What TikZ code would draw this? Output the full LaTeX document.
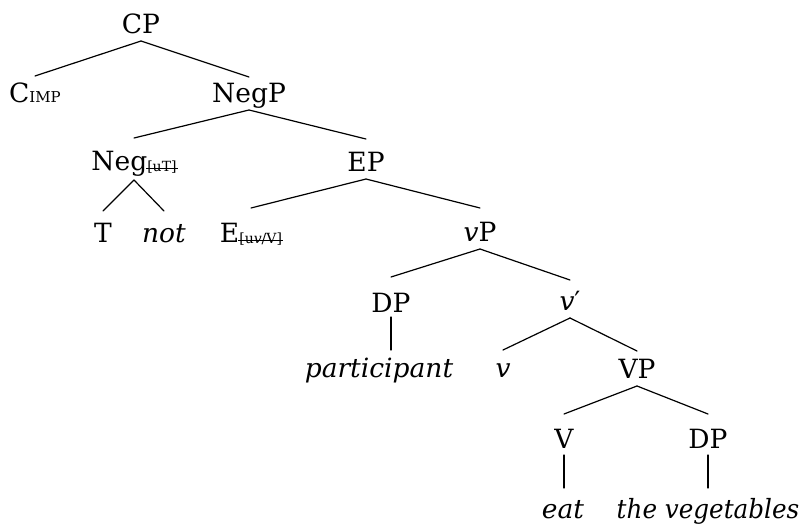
\documentclass[tikz,border=0pt]{standalone}
\usepackage{fontspec}
\setmainfont{DejaVu Serif}
\usetikzlibrary{calc}
\newcommand\strikeout[1]{\setbox0\hbox{#1}\rlap{\hspace{-1pt}\rule[2.8pt]{\dimexpr\wd0+2pt\relax}{1.2pt}}\box0}
\newcommand\subx[1]{{\fontsize{14}{16}\selectfont\raisebox{-1.5pt}{#1}}}
\newcommand\tedge[4]{\draw[br] ($(#1.base)+(0,#3)$) -- ($(#2.base)+(0,-#4)$);}
\begin{document}
\begin{tikzpicture}[x=1pt,y=-1pt,
  lbl/.style={anchor=base, inner sep=0pt, font=\fontsize{26.5}{30}\selectfont},
  br/.style={line width=1.2pt, line cap=round}]
\useasboundingbox (0,0) rectangle (801,525);
\node[lbl] (CP) at (141,33) {CP};
\node[lbl] (CIMP) at (35,102) {C{\fontsize{15}{17}\selectfont IMP}};
\node[lbl] (NegP) at (249,102) {NegP};
\node[lbl] (Neg) at (134,170) {Neg\subx{\strikeout{[uT]}}};
\node[lbl] (EP) at (366,171) {EP};
\node[lbl] (T) at (103,242) {T};
\node[lbl] (not) at (164,242) {\textit{not}};
\node[lbl] (E) at (251,242) {E\subx{\strikeout{[u\textit{v}/V]}}};
\node[lbl] (vP) at (480,241) {\textit{v}P};
\node[lbl] (DPa) at (391,312) {DP};
\node[lbl] (vbar) at (570,310) {\textit{v}′};
\node[lbl] (part) at (379,377) {\textit{participant}};
\node[lbl] (v) at (503,377) {\textit{v}};
\node[lbl] (VP) at (637,378) {VP};
\node[lbl] (V) at (564,448) {V};
\node[lbl] (DPb) at (708,448) {DP};
\node[lbl] (eat) at (563,518) {\textit{eat}};
\node[lbl] (veg) at (708,518) {\addfontfeature{FakeStretch=0.93}\textit{the vegetables}};
\tedge{CP}{CIMP}{8}{26}
\tedge{CP}{NegP}{8}{25}
\tedge{NegP}{Neg}{8}{32}
\tedge{NegP}{EP}{8}{32}
\tedge{Neg}{T}{10}{31}
\tedge{Neg}{not}{10}{31}
\tedge{EP}{E}{8}{34}
\tedge{EP}{vP}{8}{33}
\tedge{vP}{DPa}{8}{35}
\tedge{vP}{vbar}{8}{30}
\tedge{vbar}{v}{8}{27}
\tedge{vbar}{VP}{8}{27}
\tedge{VP}{V}{8}{34}
\tedge{VP}{DPb}{8}{34}
\draw[br] ($(DPa.base)+(0,5)$) -- ($(DPa.base |- part.base)+(0,-27)$);
\draw[br] ($(V.base)+(0,7)$) -- ($(V.base |- eat.base)+(0,-30)$);
\draw[br] ($(DPb.base)+(0,7)$) -- ($(DPb.base |- veg.base)+(0,-30)$);
\end{tikzpicture}
\end{document}
